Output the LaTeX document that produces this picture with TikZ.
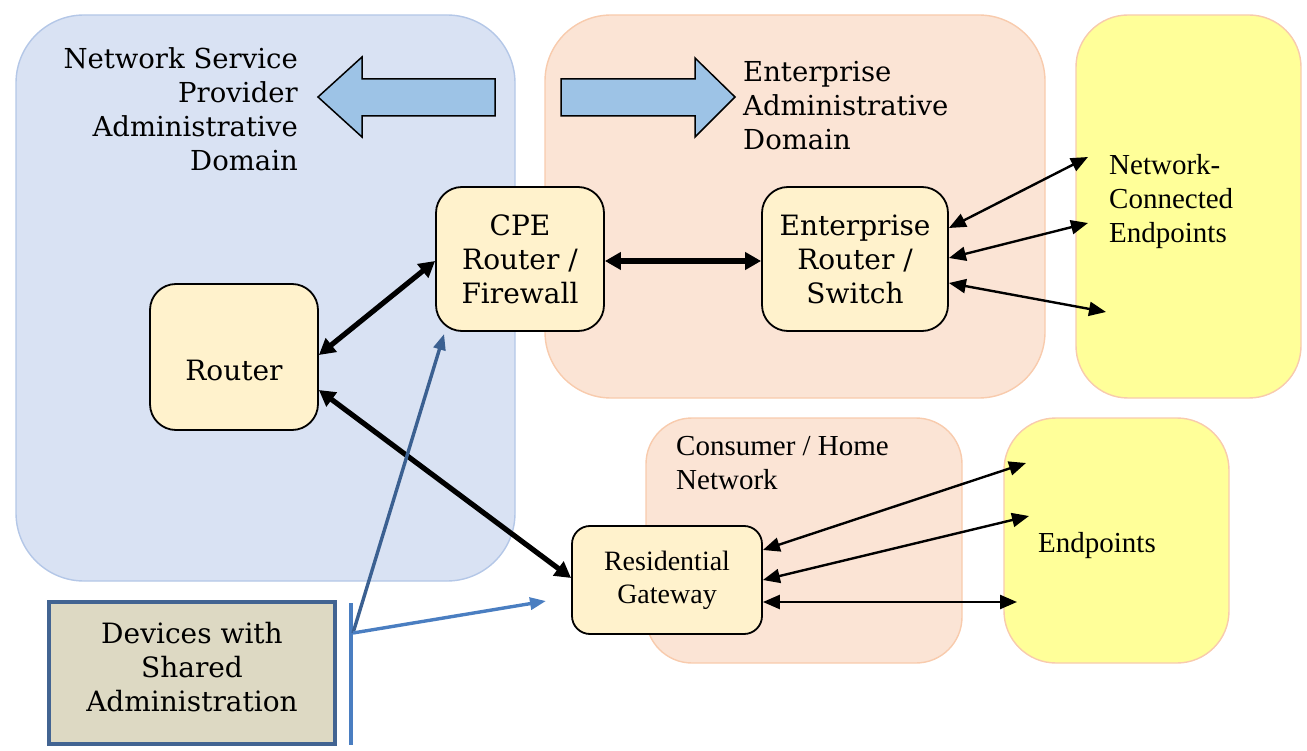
\documentclass[tikz,border=0pt]{standalone}
\usepackage{fontspec}
\setmainfont{DejaVu Serif}
\newfontfamily\tms{Liberation Serif}
\usetikzlibrary{arrows.meta,calc}

\definecolor{nspFill}{RGB}{217,226,243}
\definecolor{nspLine}{RGB}{180,199,231}
\definecolor{entFill}{RGB}{251,228,213}
\definecolor{entLine}{RGB}{248,203,173}
\definecolor{epFill}{RGB}{255,255,153}
\definecolor{devFill}{RGB}{255,242,204}
\definecolor{sharedFill}{RGB}{221,217,195}
\definecolor{sharedLine}{RGB}{66,100,146}
\definecolor{bigArrow}{RGB}{157,195,230}
\definecolor{darkBlue}{RGB}{59,96,145}
\definecolor{midBlue}{RGB}{74,126,193}

% stacked lines, shifted vertically inside a fixed-size box
\newcommand{\stackat}[2]{\raisebox{#1}[0pt][0pt]{\begin{tabular}{@{}c@{}}#2\end{tabular}}}

\tikzset{
  dombox/.style={rectangle, inner sep=0pt, line width=1.4pt},
  bluedom/.style={dombox, draw=nspLine, fill=nspFill, rounded corners=68pt},
  saldom/.style={dombox, draw=entLine, fill=entFill},
  yeldom/.style={dombox, draw=entLine, fill=epFill},
  devbox/.style={rectangle, draw=black, fill=devFill, line width=1.8pt,
    rounded corners=26pt, inner sep=0pt,
    font=\fontsize{28}{34}\selectfont},
  titletext/.style={inner sep=0pt, font=\fontsize{27.5}{34}\selectfont},
  tmstext/.style={inner sep=0pt, align=left, font=\tms\fontsize{29}{34}\selectfont},
  thin link/.style={line width=2.4pt, {Triangle[length=17pt,width=14pt]}-{Triangle[length=17pt,width=14pt]}},
  thick link/.style={line width=5.2pt, {Triangle[length=16pt,width=17pt]}-{Triangle[length=16pt,width=17pt]}},
  block arrow/.style={draw=black, fill=bigArrow, line width=1.5pt, line join=miter},
  blue link/.style={line width=3.4pt},
}

\begin{document}
\begin{tikzpicture}[x=1pt, y=-1pt]
\useasboundingbox (0,0) rectangle (1307,751);

% administrative domains
\node[bluedom, minimum width=499pt, minimum height=566pt] (nsp) at (265.5,298) {};
\node[saldom, rounded corners=66pt, minimum width=500pt, minimum height=383pt] (ent) at (795,206.5) {};
\node[yeldom, rounded corners=52pt, minimum width=225pt, minimum height=383pt] (nce) at (1188.5,206.5) {};
\node[saldom, rounded corners=46pt, minimum width=316pt, minimum height=245pt] (home) at (804,540.5) {};
\node[yeldom, rounded corners=52pt, minimum width=225pt, minimum height=245pt] (ep) at (1116.5,540.5) {};

% domain titles
\node[titletext, align=right, anchor=east] (nspT) at (298,109)
  {Network Service\\Provider\\Administrative\\Domain};
\node[titletext, align=left, anchor=west] (entT) at (743,106)
  {Enterprise\\Administrative\\Domain};
\node[tmstext, anchor=west] (homeT) at (676,463) {Consumer / Home\\Network};
\node[tmstext, anchor=west] (nceT) at (1109,202) {Network-\\Connected\\Endpoints};
\node[tmstext, anchor=west] (epT) at (1038,546) {Endpoints};

% block arrows pointing to each domain
\draw[block arrow] (318,97) -- (362,57) -- (362,79) -- (495,79) -- (495,116)
  -- (362,116) -- (362,137) -- cycle;
\draw[block arrow] (735,97) -- (695,58) -- (695,79) -- (561,79) -- (561,116)
  -- (695,116) -- (695,137) -- cycle;

% devices
\node[devbox, minimum width=168pt, minimum height=146pt] (rt) at (234,357)
  {\raisebox{-24pt}[0pt][0pt]{Router}};
\node[devbox, minimum width=168pt, minimum height=144pt] (cpe) at (520,259)
  {\stackat{-10pt}{CPE\\Router /\\Firewall}};
\node[devbox, minimum width=186pt, minimum height=144pt] (er) at (855,259)
  {\stackat{-10pt}{Enterprise\\Router /\\Switch}};
\node[devbox, rounded corners=18pt, align=center, font=\tms\fontsize{28}{33}\selectfont,
  minimum width=190pt, minimum height=108pt] (rg) at (667,580)
  {Residential\\Gateway};

\node[rectangle, draw=sharedLine, fill=sharedFill, line width=3.8pt,
  minimum width=286pt, minimum height=142pt, inner sep=0pt,
  font=\fontsize{28}{34}\selectfont] (shared) at (192,673)
  {\stackat{-4pt}{Devices with\\Shared\\Administration}};

% trunk links
\draw[thick link] ([yshift=2pt]rt.east) -- ([yshift=-2pt]cpe.west);
\draw[thick link] ([yshift=-33pt]rt.east) -- ([yshift=2pt]rg.west);
\draw[thick link] ([yshift=-2pt]cpe.east) -- ([yshift=-2pt]er.west);

% enterprise endpoint links
\coordinate (n1) at (1088,157);
\coordinate (n2) at (1088,223);
\coordinate (n3) at (1106,312);
\draw[thin link] ([yshift=31pt]er.east) -- (n1);
\draw[thin link] ([yshift=1pt]er.east) -- (n2);
\draw[thin link] ([yshift=-24pt]er.east) -- (n3);

% home endpoint links
\coordinate (h1) at (1026,463);
\coordinate (h2) at (1029,516);
\coordinate (h3) at (1017,602);
\draw[thin link] ([yshift=30pt]rg.east) -- (h1);
\draw[thin link] ([yshift=0pt]rg.east) -- (h2);
\draw[thin link] ([yshift=-22pt]rg.east) -- (h3);

% shared administration bracket
\coordinate (barTop) at (351,603);
\coordinate (barBot) at (351,745);
\coordinate (fork) at (353,633);
\coordinate (rgNear) at (546,601);
\draw[midBlue, blue link] (barTop) -- (barBot);
\draw[darkBlue, blue link, -{Triangle[length=16pt,width=12pt]}]
  (fork) -- ([shift={(9pt,-2pt)}]cpe.south west);
\draw[midBlue, blue link, -{Triangle[length=16pt,width=12pt]}]
  (fork) -- (rgNear);
\end{tikzpicture}
\end{document}
